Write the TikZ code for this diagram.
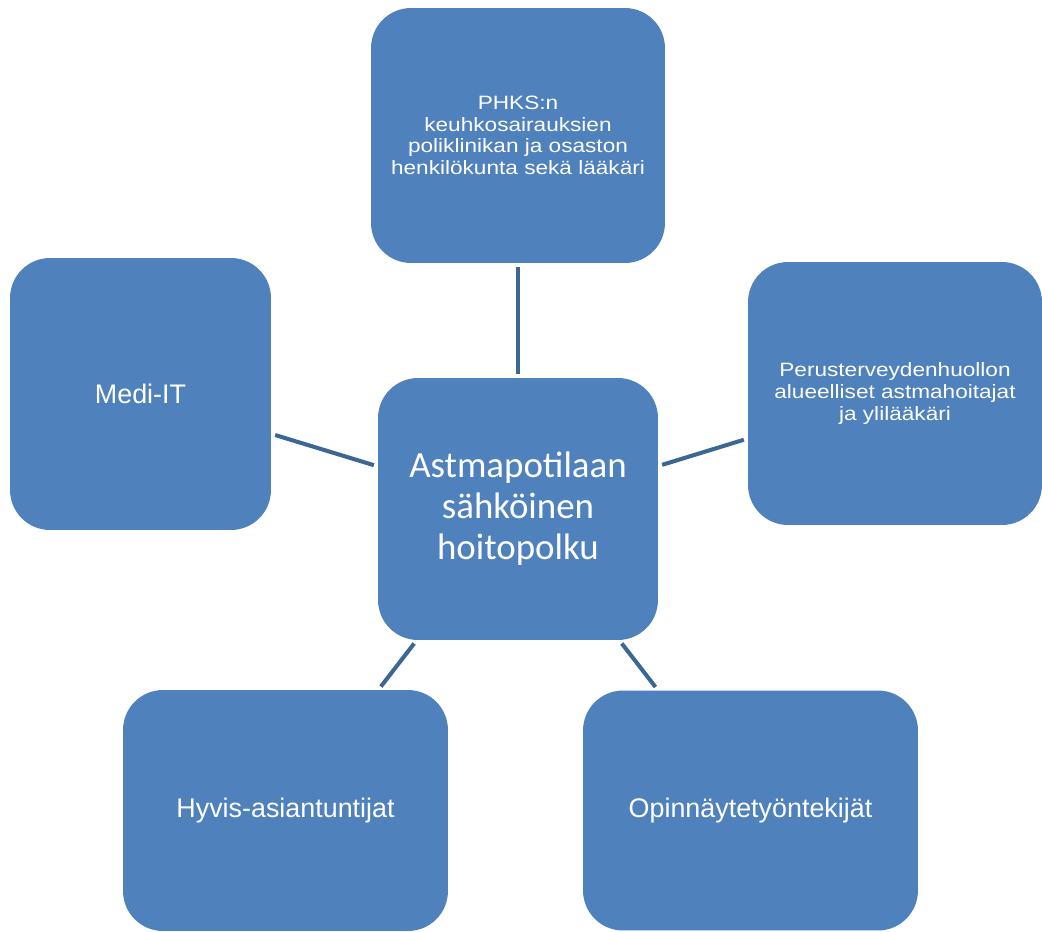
\documentclass[tikz,border=0pt]{standalone}
\usepackage{fontspec}
\setmainfont{Liberation Sans}
\newfontfamily\carlito{Carlito}
\newfontfamily\widesans[FakeStretch=1.17]{Liberation Sans}
\definecolor{boxblue}{HTML}{4F81BD}
\definecolor{lineblue}{HTML}{3C6795}

\begin{document}
\begin{tikzpicture}
        [x=0.02cm,y=-0.02cm,
        every node/.style={rectangle,rounded corners=0.8cm,fill=boxblue,text=white,inner sep=0pt,align=center},
        center-box/.style={minimum width=5.6cm,minimum height=5.24cm,font=\carlito\fontsize{21}{23.3}\selectfont},
        small-box/.style={font=\widesans\fontsize{11}{12.3}\selectfont},
        big-box/.style={font=\fontsize{15.3}{17}\selectfont},
        link/.style={draw=lineblue,line width=2.3pt,shorten <=0.08cm,shorten >=0.08cm}
        ]
        \useasboundingbox (0,0) rectangle (1042,931);
        \node[center-box] (node-0) at (518, 509) {Astmapotilaan\\sähköinen\\hoitopolku};
        \node[small-box,minimum width=5.88cm,minimum height=5.1cm] (node-1) at (518, 135.5) {PHKS:n\\keuhkosairauksien\\poliklinikan ja osaston\\henkilökunta sekä lääkäri};
        \node[big-box,minimum width=5.22cm,minimum height=5.44cm] (node-2) at (140.5, 394) {Medi-IT};
        \node[small-box,minimum width=5.88cm,minimum height=5.26cm] (node-3) at (895, 393.5) {Perusterveydenhuollon\\alueelliset astmahoitajat\\ja ylilääkäri};
        \node[big-box,minimum width=6.5cm,minimum height=4.82cm] (node-4) at (285.5, 810.5) {Hyvis-asiantuntijat};
        \node[big-box,minimum width=6.7cm,minimum height=4.8cm] (node-5) at (750.5, 810.5) {Opinnäytetyöntekijät};
        \draw[link] (node-0) -- (node-1);
        \draw[link] (node-0) -- (node-2);
        \draw[link] (node-0) -- (node-3);
        \draw[link] (node-0) -- (node-4);
        \draw[link] (node-0) -- (node-5);
    \end{tikzpicture}
\end{document}
